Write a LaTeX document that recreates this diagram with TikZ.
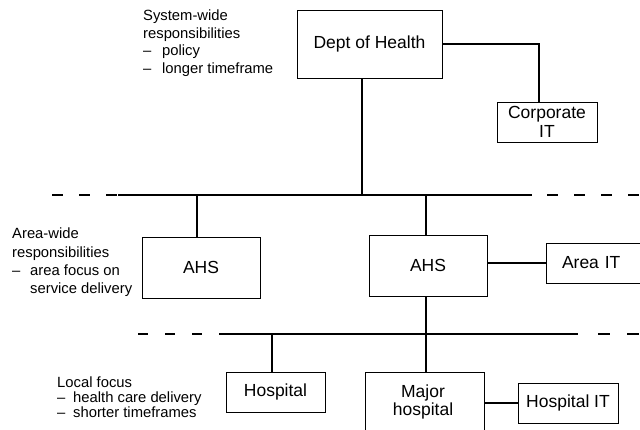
\documentclass[tikz,border=0pt]{standalone}
\usepackage{fontspec}
\setmainfont{Liberation Sans}
\begin{document}
\begin{tikzpicture}[x=1pt,y=-1pt,
  box/.style={draw, line width=0.9pt, inner sep=2pt, font=\fontsize{17.5}{19}\selectfont, align=center},
  conn/.style={line width=1.1pt},
  solidrule/.style={line width=1.3pt},
  dashrule/.style={line width=1.3pt, dash pattern=on 11pt off 16pt},
  lbl/.style={anchor=base west, inner sep=0pt}]
\useasboundingbox (0,0) rectangle (640,430);
\clip (0,0) rectangle (640,430);
% boxes
\node[box, minimum width=145pt, minimum height=68pt] (doh) at (369.5,44) {Dept of Health};
\node[box, minimum width=100pt, minimum height=40pt, font=\fontsize{17.5}{19.5}\selectfont] (corp) at (547,122) {Corporate\\IT};
\node[box, minimum width=118pt, minimum height=61pt] (ahsl) at (201,267.5) {AHS};
\node[box, minimum width=118pt, minimum height=61pt] (ahsr) at (428,265.5) {AHS};
\node[box, minimum width=104pt, minimum height=40pt, text width=72pt, align=left] (areait) at (598,263) {Area IT};
\node[box, minimum width=99pt, minimum height=40pt] (hosp) at (275.5,392) {Hospital};
\node[box, minimum width=119pt, minimum height=90pt, anchor=north] (major) at (424.5,372) {};
\node[align=center, inner sep=0pt, font=\fontsize{17.5}{15}\selectfont] (majortxt) at (423,402) {Major\\hospital};
\node[box, minimum width=100pt, minimum height=40pt] (hospit) at (568,403) {Hospital IT};
% rule 1
\coordinate (r1l) at (52,195);
\coordinate (r1a) at (118,195);
\coordinate (r1b) at (532,195);
\coordinate (r1c) at (547,195);
\coordinate (r1r) at (641,195);
\draw[dashrule] (r1l) -- (r1a);
\draw[solidrule] (r1a) -- (r1b);
\draw[dashrule] (r1c) -- (r1r);
% rule 2
\coordinate (r2l) at (138,334);
\coordinate (r2a) at (225,334);
\coordinate (r2b) at (578,334);
\coordinate (r2c) at (598,334);
\coordinate (r2r) at (641,334);
\draw[line width=1.3pt, dash pattern=on 10pt off 17pt] (r2l) -- (r2a);
\draw[solidrule] (r2a) -- (r2b);
\draw[line width=1.3pt, dash pattern=on 12pt off 17pt] (r2c) -- (r2r);
% connectors
\coordinate (cbend) at (539,44);
\draw[conn] (doh.east) -- (cbend) -- (cbend |- corp.north);
\coordinate (r1v) at (362,195);
\draw[conn] (doh.south -| r1v) -- (r1v);
\coordinate (r1ahsl) at (197,195);
\draw[conn] (r1ahsl) -- (r1ahsl |- ahsl.north);
\coordinate (r1ahsr) at (426,195);
\draw[conn] (r1ahsr) -- (r1ahsr |- ahsr.north);
\draw[conn] (ahsr.east |- areait.west) -- (areait.west);
\draw[conn] (ahsr.south -| r1ahsr) -- (r1ahsr |- major.north);
\coordinate (r2h) at (272,334);
\draw[conn] (r2h) -- (r2h |- hosp.north);
\draw[conn] (major.east |- hospit.west) -- (hospit.west);
% labels
\node[lbl] (sysl) at (143,21) {\fontsize{14.8}{17.5}\selectfont\begin{tabular}[t]{@{}l@{}}System-wide\\responsibilities\\\makebox[19pt][l]{–}policy\\\makebox[19pt][l]{–}longer timeframe\end{tabular}};
\node[lbl] (areal) at (12,239) {\fontsize{14.8}{18.3}\selectfont\begin{tabular}[t]{@{}l@{}}Area-wide\\responsibilities\\\makebox[18pt][l]{–}area focus on\\\hspace*{18pt}service delivery\end{tabular}};
\node[lbl] (locl) at (57,387) {\fontsize{14.8}{15.5}\selectfont\begin{tabular}[t]{@{}l@{}}Local focus\\\makebox[16pt][l]{–}health care delivery\\\makebox[16pt][l]{–}shorter timeframes\end{tabular}};
\end{tikzpicture}
\end{document}
